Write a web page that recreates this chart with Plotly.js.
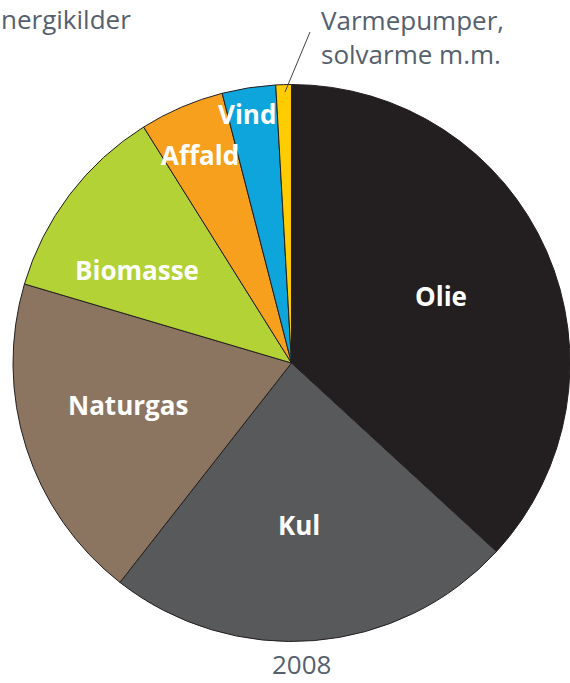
<!DOCTYPE html>
<html>
<head>
<meta charset="utf-8">
<script src="https://cdn.plot.ly/plotly-3.0.1.min.js"></script>
<style>html,body{margin:0;padding:0;background:#fff;}#chart{width:570px;height:683px;}</style>
</head>
<body>
<div id="chart"></div>
<script>
// Data
const categories = ["Olie", "Kul", "Naturgas", "Biomasse", "Affald", "Vind", "Varmepumper, solvarme m.m."];
const values = [36.8, 23.7, 19.0, 11.5, 4.9, 3.1, 0.9];
const colors = ["#231f20", "#58595b", "#8c7560", "#b2d235", "#f7a01e", "#0ea5dc", "#ffcc00"];
const yearLabel = "2008";
const titleText = "nergikilder";

const W = 570, H = 683;
function px(x){ return x / W; }
function py(y){ return 1 - y / H; }

const labelFont = {family: "'Open Sans', sans-serif", size: 26, color: "#ffffff", weight: 700};
const greyFont = {family: "'Open Sans', sans-serif", size: 26, color: "#55606e"};

const inLabels = [
  {t: categories[0], x: 441, y: 296},
  {t: categories[1], x: 299, y: 525},
  {t: categories[2], x: 128, y: 405},
  {t: categories[3], x: 137, y: 270},
  {t: categories[4], x: 200, y: 155},
  {t: categories[5], x: 247, y: 114}
];

const annotations = inLabels.map(l => ({
  text: "<b>" + l.t + "</b>", x: px(l.x), y: py(l.y), xref: "paper", yref: "paper",
  showarrow: false, xanchor: "center", yanchor: "middle", font: labelFont
}));
annotations.push({
  text: "Varmepumper,<br>solvarme m.m.", x: px(319), y: py(37), xref: "paper", yref: "paper",
  showarrow: false, xanchor: "left", yanchor: "middle", align: "left", font: greyFont
});
annotations.push({
  text: yearLabel, x: px(301), y: 0, xref: "paper", yref: "paper",
  showarrow: false, xanchor: "center", yanchor: "bottom", borderpad: 0, font: greyFont
});
annotations.push({
  text: titleText, x: 0, y: 1, xref: "paper", yref: "paper",
  showarrow: false, xanchor: "left", yanchor: "top", borderpad: 0, font: greyFont
});

const data = [{
  type: "pie",
  labels: categories,
  values: values,
  sort: false,
  direction: "clockwise",
  rotation: 0,
  textinfo: "none",
  hoverinfo: "label+percent",
  marker: {colors: colors, line: {color: "#231f20", width: 1}},
  domain: {x: [0.0228, 1.0], y: [0.060, 0.877]},
  showlegend: false
}];

const layout = {
  width: W, height: H,
  margin: {l: 0, r: 0, t: 0, b: 0},
  paper_bgcolor: "#ffffff",
  showlegend: false,
  annotations: annotations,
  shapes: [{
    type: "line", xref: "paper", yref: "paper",
    x0: px(285), y0: py(92), x1: px(310), y1: py(32),
    line: {color: "#444444", width: 1}
  }]
};

Plotly.newPlot("chart", data, layout, {displayModeBar: false, staticPlot: true});
</script>
</body>
</html>
